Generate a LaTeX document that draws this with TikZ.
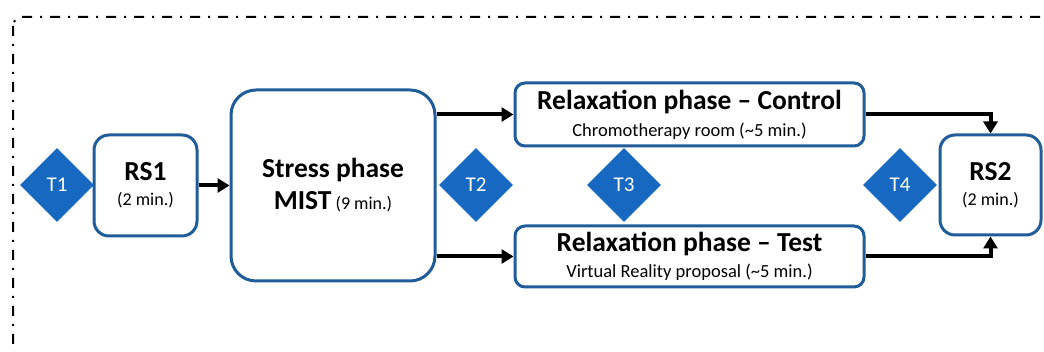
\documentclass[tikz,border=0pt]{standalone}
\usepackage{fontspec}
\setmainfont{Carlito}
\usepackage{tikz}
\usetikzlibrary{shapes.geometric}
\usetikzlibrary{arrows.meta}
\definecolor{boxblue}{RGB}{31,92,153}
\definecolor{tblue}{RGB}{22,104,192}
\newcommand{\bigbf}{\fontsize{27.5}{30}\selectfont\bfseries}

\begin{document}
\begin{tikzpicture}[x=1pt,y=1pt,
  phasebox/.style={draw=boxblue,line width=3pt,fill=white,align=center,inner sep=0pt},
  tmark/.style={diamond,fill=tblue,text=white,aspect=1,inner sep=0pt,
    minimum width=74pt,minimum height=74pt,font=\fontsize{21}{24}\selectfont},
  flow/.style={line width=4pt,-{Triangle[width=14pt,length=12pt]}}]
\useasboundingbox (0,0) rectangle (1044,352);
% session frame
\draw[line width=2pt,rounded corners=9pt,dash pattern=on 10pt off 8pt on 2pt off 8pt] (13,335) rectangle (1062,-8);
% boxes
\node[phasebox,rounded corners=15pt,minimum width=103pt,minimum height=101pt,
  font=\fontsize{18}{25}\selectfont] (rs1) at (145.5,166.5) {{\bigbf RS1}\\(2 min.)};
\node[phasebox,rounded corners=25pt,minimum width=204pt,minimum height=191pt,
  font=\fontsize{18}{32}\selectfont] (stress) at (333,166.5) {{\bigbf Stress phase}\\{\bigbf MIST} (9 min.)};
\node[phasebox,rounded corners=10pt,minimum width=349pt,minimum height=63pt,
  font=\fontsize{18.5}{27}\selectfont] (ctrl) at (689.5,237.5) {{\bigbf Relaxation phase -- Control}\\Chromotherapy room (\textasciitilde5 min.)};
\node[phasebox,rounded corners=10pt,minimum width=349pt,minimum height=61pt,
  font=\fontsize{18.5}{26}\selectfont] (test) at (689.5,95.5) {{\bigbf Relaxation phase -- Test}\\Virtual Reality proposal (\textasciitilde5 min.)};
\node[phasebox,rounded corners=15pt,minimum width=101pt,minimum height=100pt,
  font=\fontsize{18}{25}\selectfont] (rs2) at (990.5,167) {{\bigbf RS2}\\(2 min.)};
% time points
\node[tmark] (t1) at (57,167) {T1};
\node[tmark] (t2) at (476,167) {T2};
\node[tmark] (t3) at (624,167) {T3};
\node[tmark] (t4) at (900,167) {T4};
% arrows
\draw[flow] (rs1.east) -- (stress.west);
\draw[flow] (stress.east |- ctrl.west) -- (ctrl.west);
\draw[flow] (stress.east |- test.west) -- (test.west);
\draw[flow] (ctrl.east) -| (rs2.north);
\draw[flow] (test.east) -| (rs2.south);
\end{tikzpicture}
\end{document}
